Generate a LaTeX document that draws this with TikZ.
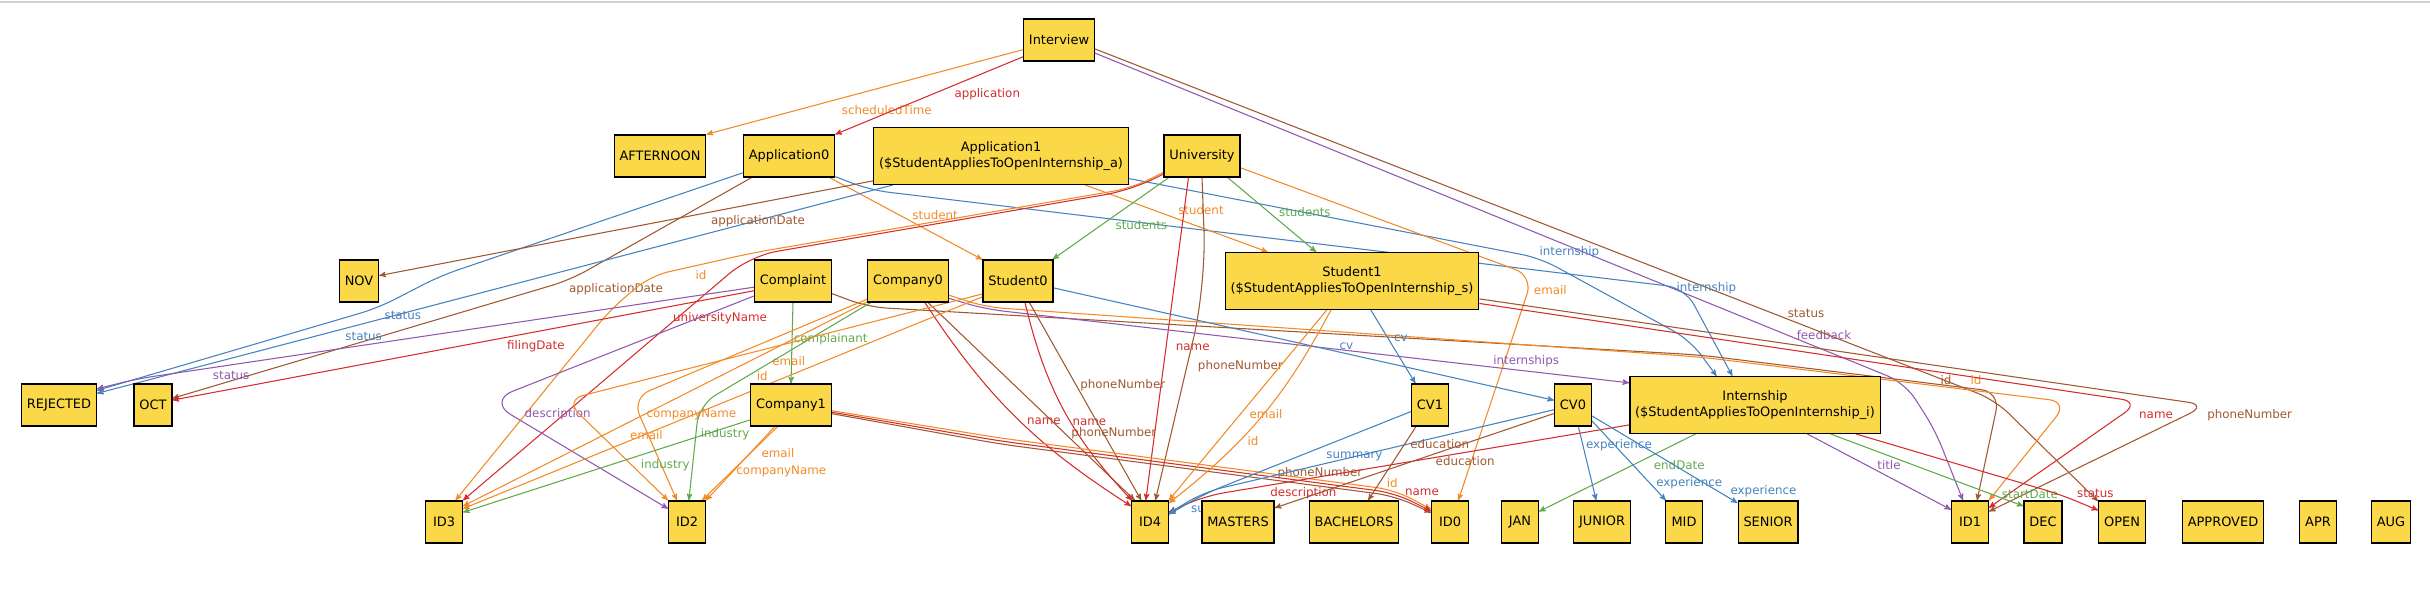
\documentclass[tikz,border=0pt]{standalone}
\usepackage{fontspec}
\setmainfont{DejaVu Sans}
\usepackage{tikz}
\usetikzlibrary{arrows}
\pgfdeclarelayer{bg}
\pgfsetlayers{bg,main}

\definecolor{atomyellow}{RGB}{250,216,72}
\definecolor{relred}{RGB}{214,44,44}
\definecolor{relorange}{RGB}{243,138,38}
\definecolor{relblue}{RGB}{70,130,190}
\definecolor{relgreen}{RGB}{96,170,76}
\definecolor{relpurple}{RGB}{144,88,176}
\definecolor{relbrown}{RGB}{160,88,48}

\begin{document}
\begin{tikzpicture}[>=stealth',x=0.75pt,y=-0.75pt,
  atom/.style={draw=black,line width=1pt,fill=atomyellow,align=center,
    font=\fontsize{9.7}{11.6}\selectfont,inner xsep=4pt,inner ysep=2pt,
    minimum height=31.5pt,minimum width=27.5pt},
  atom2/.style={atom,minimum height=42.5pt},
  rel/.style={->,line width=0.8pt,rounded corners=14pt},
  lbl/.style={font=\fontsize{8.9}{10}\selectfont,inner sep=0.5pt}]

\useasboundingbox (0,0) rectangle (2430,610);
\draw[black!18,line width=1pt] (0,2) -- (2430,2);

% define the atoms
\node[atom] (Interview) at (1059,40) {Interview};
\node[atom] (AFTERNOON) at (660,156) {AFTERNOON};
\node[atom] (Application0) at (789,156) {Application0};
\node[atom2] (Application1) at (1001,156) {Application1\\(\$StudentAppliesToOpenInternship\_a)};
\node[atom] (University) at (1202,156) {University};
\node[atom] (NOV) at (359,281) {NOV};
\node[atom] (Complaint) at (793,281) {Complaint};
\node[atom] (Company0) at (908,281) {Company0};
\node[atom] (Student0) at (1018,281) {Student0};
\node[atom2] (Student1) at (1352,281) {Student1\\(\$StudentAppliesToOpenInternship\_s)};
\node[atom] (REJECTED) at (59,405) {REJECTED};
\node[atom] (OCT) at (153,405) {OCT};
\node[atom] (Company1) at (791,405) {Company1};
\node[atom] (CV1) at (1430,405) {CV1};
\node[atom] (CV0) at (1573,405) {CV0};
\node[atom2] (Internship) at (1755,405) {Internship\\(\$StudentAppliesToOpenInternship\_i)};
\node[atom] (ID3) at (444,522) {ID3};
\node[atom] (ID2) at (687,522) {ID2};
\node[atom] (ID4) at (1150,522) {ID4};
\node[atom] (MASTERS) at (1238,522) {MASTERS};
\node[atom] (BACHELORS) at (1354,522) {BACHELORS};
\node[atom] (ID0) at (1450,522) {ID0};
\node[atom] (JAN) at (1520,522) {JAN};
\node[atom] (JUNIOR) at (1602,522) {JUNIOR};
\node[atom] (MID) at (1684,522) {MID};
\node[atom] (SENIOR) at (1768,522) {SENIOR};
\node[atom] (ID1) at (1970,522) {ID1};
\node[atom] (DEC) at (2043,522) {DEC};
\node[atom] (OPEN) at (2122,522) {OPEN};
\node[atom] (APPROVED) at (2223,522) {APPROVED};
\node[atom] (APR) at (2318,522) {APR};
\node[atom] (AUG) at (2391,522) {AUG};

% define the relations
\begin{pgfonlayer}{bg}
\draw[rel,relorange] (Interview.195) -- node[lbl,pos=.43,yshift=-18pt] {scheduledTime} (AFTERNOON.north east);
\draw[rel,relred] (Interview.205) -- node[lbl,pos=.19,yshift=-17pt] {application} (Application0.north east);
\draw[rel,relpurple] (Interview.-20) -- node[lbl,pos=.9,yshift=11pt] {feedback} (1905,383) -- (1935,430) -- (ID1.108);
\draw[rel,relbrown] (Interview.-14) -- node[lbl,pos=.79,yshift=9.5pt] {status} (1995,400) -- (OPEN.139);

\draw[rel,relblue] (Application0.200) -- (440,276) -- node[lbl,pos=.6,yshift=-15pt] {status} (378,308) -- (REJECTED.21);
\draw[rel,relbrown] (Application0.210) -- node[lbl,pos=1,xshift=34.5pt,yshift=-7pt] {applicationDate} (570,280) -- (OCT.19);
\draw[rel,relorange] (Application0.-28) -- node[lbl,pos=.69,yshift=14pt] {student} (Student0.149);
\draw[rel,relblue] (Application0.-24) -- (870,190) -- node[lbl,pos=1,xshift=16pt] {internship} (1685,288) -- (Internship.128);

\draw[rel,relblue] (Application1.195) -- node[lbl,pos=.665,yshift=-10pt] {status} (REJECTED.17);
\draw[rel,relbrown] (Application1.191) -- node[lbl,pos=.233,yshift=-13.5pt] {applicationDate} (NOV.15);
\draw[rel,relorange] (Application1.-19) -- node[lbl,pos=.634,yshift=13pt] {student} (Student1.161);
\draw[rel,relblue] (Application1.-10) -- node[lbl,pos=1,xshift=22pt,yshift=4pt] {internship} (1540,258) -- (1690,340) -- (Internship.143);

\draw[rel,relgreen] (University.213) -- node[lbl,pos=.58,xshift=30pt] {students} (Student0.32);
\draw[rel,relgreen] (University.-40) -- node[lbl,pos=.457,xshift=27.5pt] {students} (Student1.141);
\draw[rel,relred] (University.238) -- node[lbl,pos=.525,xshift=20pt] {name} (ID4.101);
\draw[rel,relbrown,rounded corners=40pt] (University.south) -- (1206,285) -- node[lbl,pos=.375,xshift=40pt] {phoneNumber} (ID4.76);
\draw[rel,relorange] (University.203) -- (1132,188) -- (752,253) -- node[lbl,pos=.5,yshift=-8pt] {id} (650,276) -- (610,310) -- (ID3.62);
\draw[rel,relred,rounded corners=20pt] (University.205) -- (1132,190) -- (750,256) -- node[lbl,pos=.253,xshift=32pt] {universityName} (ID3.north east);
\draw[rel,relorange] (University.-17) -- node[lbl,pos=1,xshift=13pt,yshift=-10.5pt] {email} (1533,276) -- (ID0.69);

\draw[rel,relpurple] (Complaint.189) -- node[lbl,pos=.846,yshift=-8pt] {status} (136,379) -- (REJECTED.23);
\draw[rel,relred] (Complaint.194) -- node[lbl,pos=.375,yshift=-10.5pt] {filingDate} (OCT.14);
\draw[rel,relpurple,rounded corners=20pt] (Complaint.201) -- (488,401) -- node[lbl,pos=.387,yshift=21pt] {description} (ID2.145);
\draw[rel,relgreen] (Complaint.south) -- node[lbl,pos=.45,xshift=29pt] {complainant} (Company1.north);
\draw[rel,relbrown] (Complaint.-18) -- (868,307) -- (1700,355) -- node[lbl,pos=.82,yshift=4pt] {id} (2000,392) -- (ID1.72);

\draw[rel,relorange] (Company0.-19) -- (985,307) -- (1700,357) -- node[lbl,pos=.75,yshift=8pt] {id} (2068,402) -- (ID1.north east);
\draw[rel,relpurple] (Company0.-23) -- (985,309) -- node[lbl,pos=.84,yshift=7.5pt] {internships} (Internship.170);
\draw[rel,relred] (Company0.-52) to[bend right=12] node[lbl,pos=.55,xshift=14pt,yshift=4pt] {name} (ID4.140);
\draw[rel,relbrown] (Company0.-47) -- node[lbl,pos=.663,xshift=36.5pt] {phoneNumber} (ID4.125);
\draw[rel,relorange] (Company0.207) -- node[lbl,pos=.194,yshift=-15pt] {email} (ID3.40);
\draw[rel,relorange] (Company0.204) -- (632,398) -- node[lbl,pos=.165,xshift=39pt] {companyName} (ID2.115);
\draw[rel,relgreen] (Company0.210) -- (699,405) -- node[lbl,pos=.635,xshift=-20.5pt] {industry} (ID2.85);

\draw[rel,relred] (Student0.-72) to[bend right=15] node[lbl,pos=.57,xshift=14pt] {name} (ID4.130);
\draw[rel,relbrown] (Student0.-62) -- node[lbl,pos=.417,xshift=35pt] {phoneNumber} (ID4.112);
\draw[rel,relblue] (Student0.-11) -- node[lbl,pos=.585,yshift=5.5pt] {cv} (CV0.166);
\draw[rel,relorange] (Student0.204) -- node[lbl,pos=.424,yshift=8pt] {id} (ID3.35);
\draw[rel,relorange] (Student0.200) -- (565,400) -- node[lbl,pos=.35,xshift=34pt] {email} (ID2.north west);

\draw[rel,relgreen] (Company1.200) -- node[lbl,pos=.087,yshift=-5pt] {industry} (ID3.27);
\draw[rel,relorange] (Company1.233) -- node[lbl,pos=.36,xshift=21pt] {email} (ID2.north east);
\draw[rel,relorange] (Company1.238) -- node[lbl,pos=.613,xshift=37.5pt] {companyName} (ID2.55);
\draw[rel,relorange] (Company1.-8) -- (1000,438) -- node[lbl,pos=1,xshift=-2pt,yshift=5pt] {id} (1395,490) -- (ID0.146);
\draw[rel,relbrown] (Company1.-12) -- (1000,444) -- node[lbl,pos=.81,yshift=9.5pt] {phoneNumber} (1395,496) -- (ID0.154);
\draw[rel,relred] (Company1.-10) -- (1000,441) -- (1395,493) -- node[lbl,pos=.75,yshift=11pt] {name} (ID0.150);

\draw[rel,relorange] (Student1.229) -- node[lbl,pos=.545,xshift=19pt] {email} (ID4.49);
\draw[rel,relorange] (Student1.234) to[bend left=12] node[lbl,pos=.64,xshift=10pt] {id} (ID4.45);
\draw[rel,relblue] (Student1.-57) -- node[lbl,pos=.39,xshift=9.5pt] {cv} (CV1.124);
\draw[rel,relred] (Student1.-10) -- node[lbl,pos=1,xshift=12pt,yshift=-10pt] {name} (2140,402) -- (ID1.37);
\draw[rel,relbrown] (Student1.-8) -- node[lbl,pos=1,xshift=32pt,yshift=-7.5pt] {phoneNumber} (2207,405) -- (ID1.29);

\draw[rel,relpurple] (Internship.-29) -- node[lbl,pos=.568,yshift=9pt] {title} (ID1.147);
\draw[rel,relgreen] (Internship.-21) -- node[lbl,pos=.93,xshift=15pt,yshift=5pt] {startDate} (DEC.141);
\draw[rel,relred] (Internship.-16) -- node[lbl,pos=1,xshift=25pt,yshift=1.5pt] {status} (2062,495) -- (OPEN.154);
\draw[rel,relgreen] (Internship.206) -- node[lbl,pos=.3,xshift=23pt,yshift=-6pt] {endDate} (JAN.29);
\draw[rel,relred] (Internship.189) -- node[lbl,pos=.768,yshift=-10pt] {description} (1205,496) -- (ID4.28);

\draw[rel,relblue] (CV1.199) -- node[lbl,pos=.927,yshift=-17pt] {summary} (1204,494) -- (ID4.22);
\draw[rel,relblue] (CV0.194) -- node[lbl,pos=.57] {summary} (1204,492) -- (ID4.25);
\draw[rel,relbrown] (CV1.237) -- node[lbl,pos=.24,xshift=26.5pt] {education} (BACHELORS.57);
\draw[rel,relbrown] (CV0.204) -- node[lbl,pos=.318,yshift=-13.5pt] {education} (MASTERS.21);
\draw[rel,relblue] (CV0.-76) -- node[lbl,pos=.253,xshift=27pt] {experience} (JUNIOR.105);
\draw[rel,relblue] (CV0.-40) -- node[lbl,pos=.784,xshift=29.5pt] {experience} (MID.130);
\draw[rel,relblue] (CV0.-30) -- node[lbl,pos=1,xshift=19.5pt,yshift=9pt] {experience} (SENIOR.148);
\end{pgfonlayer}

\end{tikzpicture}
\end{document}
